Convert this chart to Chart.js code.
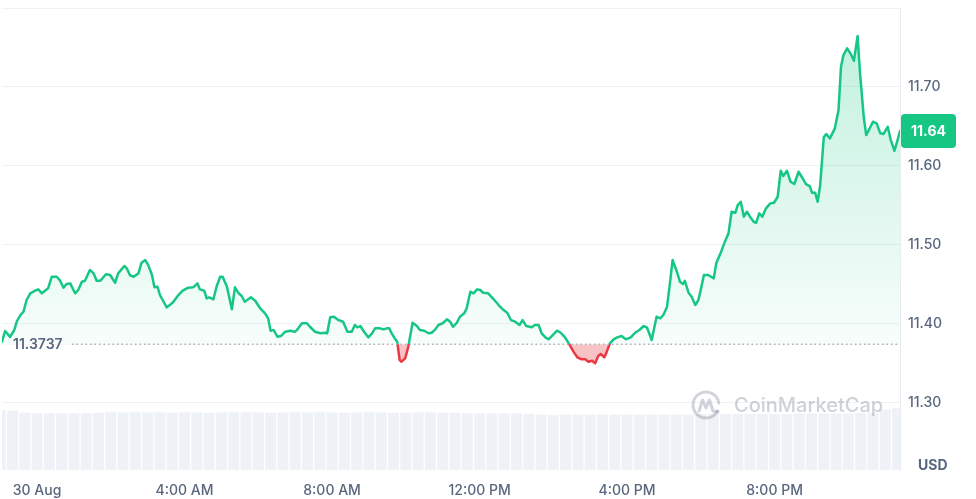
<!DOCTYPE html>
<html>
<head>
<meta charset="utf-8">
<script src="https://cdn.jsdelivr.net/npm/chart.js@4.4.0/dist/chart.umd.min.js"></script>
<style>
    html, body { margin: 0; padding: 0; background: #fff; }
    #wrap { width: 976px; height: 499px; position: relative; }
</style>
</head>
<body>
<div id="wrap"><canvas id="priceChart"></canvas></div>
<script>
// minutes from 00:00 on 30 Aug
const priceMinutes = [-57,-52,-49,-44,-37,-33,-27,-22,-17,-11,-3,2,8,13,18,24,32,37,43,48,54,62,67,73,78,86,92,97,103,112,119,127,132,142,146,151,157,165,170,176,181,187,191,196,200,206,211,216,222,230,237,246,254,261,265,272,276,280,287,292,298,302,309,317,322,328,333,338,
    342,348,355,363,371,376,380,385,391,397,404,412,420,425,431,439,444,452,461,469,472,477,483,490,498,505,512,517,521,526,532,539,545,550,557,564,569,573,577,583,586,590,593,599,604,611,618,623,630,637,642,648,653,660,667,672,677,683,688,695,699,705,710,716,721,
    726,734,743,751,759,765,771,778,785,790,796,805,810,816,821,827,832,839,846,852,859,866,873,879,886,892,897,903,908,913,917,923,927,932,938,944,951,958,966,973,980,987,992,996,1000,1008,1014,1019,1025,1030,1034,1041,1046,1051,1054,1060,1065,1071,1076,1080,1085,1092,1101,1105,1112,1118,1125,1130,1136,1140,1145,1150,1155,1160,1166,1170,1175,1180,1186,1193,1199,1205,1210,1214,1220,1226,1232,1239,1244,1251,1257,1261,1266,1270,1274,1280,1284,1290,1298,1304,1308,1312,1318,1324,1329,1335,1339,1345,1349,1356,1360,1366,1372,1377,1384,1389,1395,1400,1404];

const prices = [11.3766,11.3905,11.388,11.3829,11.3918,11.4023,11.4108,11.415,11.4298,11.4383,11.4416,11.4433,11.4383,11.4416,11.4446,11.4593,11.4593,11.4551,11.4454,11.4501,11.4509,11.4383,11.4425,11.453,11.4542,11.4678,11.4636,11.4542,11.4542,11.4624,11.4615,11.4517,11.4636,11.4729,11.47,11.4615,11.4593,11.4636,11.4771,11.4805,11.4741,11.4615,11.4459,11.4466,11.4361,11.4276,11.4205,11.4234,11.4276,11.4361,11.4416,11.4454,11.4459,11.4509,11.4433,11.4416,11.4319,11.4332,11.4307,11.4466,11.4593,11.4593,11.4466,11.418,11.4459,11.4383,11.4349,11.4276,
    11.4298,11.4332,11.4289,11.4193,11.4129,11.4066,11.3909,11.3918,11.3833,11.3842,11.3896,11.3909,11.3896,11.3939,11.4003,11.4003,11.3959,11.3896,11.3876,11.3883,11.3876,11.4079,11.4086,11.4044,11.4023,11.3896,11.3896,11.3981,11.3952,11.3968,11.3896,11.3825,11.3876,11.3939,11.3939,11.3926,11.3939,11.3939,11.3876,11.38,11.3769,11.3537,11.3516,11.3559,11.3706,11.401,11.3968,11.3918,11.3909,11.3876,11.3883,11.3926,11.3981,11.4003,11.4053,11.4023,11.3959,11.401,11.4086,11.4129,11.4193,11.4403,11.4383,11.4433,11.4425,
    11.439,11.4383,11.4307,11.4234,11.4171,11.4137,11.4044,11.4023,11.3981,11.4044,11.3968,11.3952,11.3981,11.3981,11.3876,11.3825,11.38,11.3854,11.3909,11.3883,11.3825,11.3737,11.364,11.3572,11.3546,11.3546,11.3516,11.3529,11.3496,11.3588,11.3613,11.3572,11.3643,11.3749,11.38,11.3825,11.3842,11.38,11.3825,11.3883,11.3918,11.3968,11.3952,11.3876,11.3791,11.4086,11.4066,11.4108,11.4213,11.453,11.4805,11.4657,11.453,11.4501,11.4542,11.439,11.434,11.4234,11.4298,11.4433,11.4615,11.4615,11.4573,11.4763,11.489,11.5016,11.5143,11.5417,11.5404,11.5502,11.5544,11.5354,11.5417,11.5354,11.529,11.5278,11.5397,11.5354,11.546,11.5523,11.5531,11.5607,11.5937,11.5869,11.5937,11.5797,11.5768,11.5924,11.5861,11.5768,11.5743,11.5658,11.5658,11.5544,11.5743,11.636,11.6402,11.6347,11.6474,11.6706,11.7255,11.7403,11.7488,11.7416,11.7331,11.7644,11.7171,11.6621,11.6389,11.6494,11.6558,11.6537,11.6411,11.6402,11.6494,11.6326,11.619,11.6326,11.644];

const openPrice = 11.3737;

// one volume bar every 20 minutes, starting at -60
const volumeStartMinute = -60;
const volumeStepMinutes = 20;
const volumes = [104,103,99,98,98,98,98,98,99,100,100,100,100,100,99,100,100,99,100,100,100,100,99,100,100,100,100,100,99,100,100,100,99,99,100,100,99,99,98,98,98,98,98,97,96,95,96,96,96,96,96,96,96,96,96,96,96,97,97,97,97,97,97,97,97,98,98,98,98,98,99,99,105,107];

const xTickMinutes = [0, 240, 480, 720, 960, 1200];
const xTickLabels = ['30 Aug', '4:00 AM', '8:00 AM', '12:00 PM', '4:00 PM', '8:00 PM'];
const yGridValues = [11.3, 11.4, 11.5, 11.6, 11.7, 11.8];
const yTickLabels = ['11.30', '11.40', '11.50', '11.60', '11.70'];

const GREEN = '#16c784';
const RED = '#ea3943';
const LABEL_GREY = '#58667e';

const overlayPlugin = {
    id: 'overlay',
    afterDatasetsDraw(chart) {
        const { ctx, chartArea, scales } = chart;
        const baseY = scales.y.getPixelForValue(openPrice);
        ctx.save();

        // dotted open price line
        ctx.strokeStyle = '#a6b0c3';
        ctx.lineWidth = 1.5;
        ctx.setLineDash([1.5, 3]);
        ctx.beginPath();
        ctx.moveTo(chartArea.left + 70, baseY);
        ctx.lineTo(chartArea.right, baseY);
        ctx.stroke();
        ctx.setLineDash([]);

        ctx.font = '600 14px Inter';
        ctx.fillStyle = LABEL_GREY;
        ctx.textBaseline = 'middle';
        ctx.textAlign = 'left';
        ctx.fillText(openPrice.toFixed(4), chartArea.left + 11, baseY + 1);

        // watermark
        const cx = chartArea.right - 194;
        const cy = chartArea.bottom - 65;
        ctx.strokeStyle = 'rgba(88,102,126,0.28)';
        ctx.lineWidth = 3;
        ctx.lineCap = 'round';
        ctx.lineJoin = 'round';
        ctx.beginPath();
        ctx.arc(cx, cy, 13, 0.15 * Math.PI, 1.95 * Math.PI);
        ctx.stroke();
        ctx.beginPath();
        ctx.moveTo(cx - 7, cy + 6);
        ctx.lineTo(cx - 3.5, cy - 5);
        ctx.lineTo(cx, cy + 3);
        ctx.lineTo(cx + 3.5, cy - 5);
        ctx.lineTo(cx + 7, cy + 6);
        ctx.lineTo(cx + 12, cy + 7);
        ctx.stroke();

        ctx.font = '500 20px Inter';
        ctx.fillStyle = 'rgba(88,102,126,0.3)';
        ctx.fillText('CoinMarketCap', cx + 28, cy + 1);
        ctx.restore();
    },
    afterDraw(chart) {
        const { ctx, chartArea, scales } = chart;
        const last = prices[prices.length - 1];
        const y = scales.y.getPixelForValue(last);
        ctx.save();
        const bx = chartArea.right + 1, bw = 55, bh = 34;
        ctx.fillStyle = GREEN;
        ctx.beginPath();
        ctx.roundRect(bx, y - bh / 2, bw, bh, 4);
        ctx.fill();
        ctx.fillStyle = '#fff';
        ctx.font = '700 14px Inter';
        ctx.textAlign = 'center';
        ctx.textBaseline = 'middle';
        ctx.fillText(last.toFixed(2), bx + bw / 2, y + 1);

        ctx.fillStyle = LABEL_GREY;
        ctx.font = '700 14px Inter';
        ctx.textAlign = 'left';
        ctx.fillText('USD', chartArea.right + 18, chartArea.bottom - 4);
        ctx.restore();
    }
};

const priceData = priceMinutes.map((m, i) => ({ x: m, y: prices[i] }));
const volumeData = volumes.map((v, i) => ({ x: volumeStartMinute + i * volumeStepMinutes, y: v }));

const chart = new Chart(document.getElementById('priceChart').getContext('2d'), {
    type: 'line',
    data: {
        datasets: [{
            label: 'Price',
            data: priceData,
            yAxisID: 'y',
            order: 0,
            borderColor: GREEN,
            borderWidth: 2.5,
            borderJoinStyle: 'round',
            borderCapStyle: 'round',
            pointRadius: 0,
            tension: 0,
            fill: { target: { value: openPrice }, above: 'rgba(22,199,132,0.12)', below: 'rgba(234,57,67,0.3)' }
        }, {
            type: 'bar',
            label: 'Volume',
            data: volumeData,
            yAxisID: 'yVolume',
            order: 1,
            backgroundColor: 'rgba(207,214,228,0.35)',
            borderWidth: 0,
            barPercentage: 0.9,
            categoryPercentage: 1
        }]
    },
    options: {
        animation: false,
        responsive: true,
        maintainAspectRatio: false,
        layout: { padding: { left: 2, top: 8, right: 0, bottom: 0 } },
        plugins: {
            legend: { display: false },
            tooltip: { enabled: false }
        },
        scales: {
            x: {
                type: 'linear',
                min: -57,
                max: 1404,
                offset: false,
                grid: { display: false, drawTicks: false, offset: false },
                border: { display: false },
                afterBuildTicks: (axis) => { axis.ticks = xTickMinutes.map(v => ({ value: v })); },
                afterFit: (axis) => {
                    axis.height = 29;
                    axis.paddingLeft = 0;
                    axis.paddingRight = 0;
                },
                ticks: {
                    autoSkip: false,
                    maxRotation: 0,
                    padding: 12,
                    color: LABEL_GREY,
                    font: { family: 'Inter', size: 14, weight: '500' },
                    callback: (value, index) => xTickLabels[index]
                }
            },
            y: {
                position: 'right',
                min: 11.2143,
                max: 11.8,
                grid: { color: '#eff2f5', drawTicks: false },
                border: { display: true, color: '#e8ebf0' },
                afterBuildTicks: (axis) => { axis.ticks = yGridValues.map(v => ({ value: v })); },
                afterFit: (axis) => {
                    axis.width = 76;
                    axis.paddingTop = 0;
                    axis.paddingBottom = 0;
                },
                ticks: {
                    padding: 8,
                    color: LABEL_GREY,
                    font: { family: 'Inter', size: 14, weight: '500' },
                    callback: (value, index) => yTickLabels[index] || ''
                }
            },
            yVolume: {
                display: false,
                min: 0,
                max: 800
            }
        }
    },
    plugins: [overlayPlugin]
});

// colour the line and fill relative to the open price
const area = chart.chartArea;
const yScale = chart.scales.y;
const baseY = yScale.getPixelForValue(openPrice);
const split = (baseY - area.top) / (area.bottom - area.top);
const lineGradient = chart.ctx.createLinearGradient(0, area.top, 0, area.bottom);
lineGradient.addColorStop(0, GREEN);
lineGradient.addColorStop(split, GREEN);
lineGradient.addColorStop(split, RED);
lineGradient.addColorStop(1, RED);

const fillGradient = chart.ctx.createLinearGradient(0, yScale.getPixelForValue(Math.max(...prices)), 0, baseY);
fillGradient.addColorStop(0, 'rgba(22,199,132,0.26)');
fillGradient.addColorStop(1, 'rgba(22,199,132,0.03)');

const priceSet = chart.data.datasets[0];
priceSet.borderColor = lineGradient;
priceSet.fill = { target: { value: openPrice }, above: fillGradient, below: 'rgba(234,57,67,0.3)' };
chart.update('none');
</script>
</body>
</html>
